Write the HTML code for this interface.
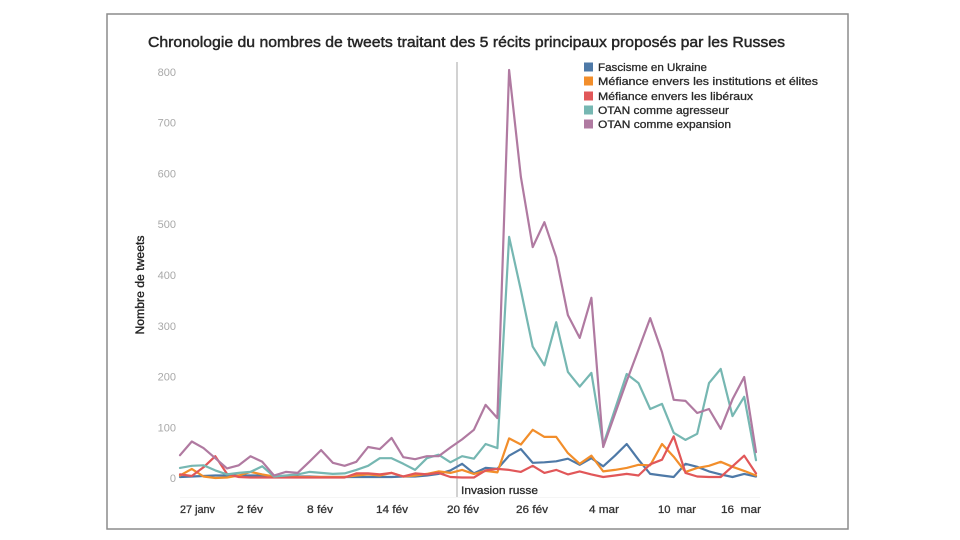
<!DOCTYPE html>
<html><head><meta charset="utf-8"><style>
html,body{margin:0;padding:0;background:#fff;}
svg{display:block;}
text{font-family:"Liberation Sans",sans-serif;}
</style></head><body>
<svg width="960" height="540" viewBox="0 0 960 540" xmlns="http://www.w3.org/2000/svg">
<rect x="0" y="0" width="960" height="540" fill="#fff"/>
<rect x="107" y="14" width="741" height="515" fill="none" stroke="#8c8c8c" stroke-width="1.5"/>
<text x="148" y="47" font-size="15" fill="#262626" stroke="#262626" stroke-width="0.45" textLength="637" lengthAdjust="spacingAndGlyphs">Chronologie du nombres de tweets traitant des 5 récits principaux proposés par les Russes</text>

<g font-size="11" fill="#a8a8a8" text-anchor="end">
<text x="176" y="76">800</text>
<text x="176" y="126.7">700</text>
<text x="176" y="177.5">600</text>
<text x="176" y="228.2">500</text>
<text x="176" y="279">400</text>
<text x="176" y="329.8">300</text>
<text x="176" y="380.5">200</text>
<text x="176" y="431.3">100</text>
<text x="176" y="482">0</text>
</g>
<text transform="translate(144,285) rotate(-90)" text-anchor="middle" font-size="11.5" fill="#222" stroke="#222" stroke-width="0.35" textLength="99" lengthAdjust="spacingAndGlyphs">Nombre de tweets</text>

<line x1="180" y1="497.5" x2="760" y2="497.5" stroke="#f5f5f5" stroke-width="1"/>
<line x1="457" y1="62" x2="457" y2="497" stroke="#b4b4b4" stroke-width="1.2"/>
<text x="461" y="494" font-size="11" fill="#2a2a2a" stroke="#2a2a2a" stroke-width="0.3" textLength="77" lengthAdjust="spacingAndGlyphs">Invasion russe</text>

<g font-size="11" fill="#333" stroke="#333" stroke-width="0.3">
<text x="180" y="513" textLength="35" lengthAdjust="spacingAndGlyphs">27 janv</text>
<text x="237" y="513" textLength="26" lengthAdjust="spacingAndGlyphs">2 fév</text>
<text x="307" y="513" textLength="26" lengthAdjust="spacingAndGlyphs">8 fév</text>
<text x="376" y="513" textLength="32" lengthAdjust="spacingAndGlyphs">14 fév</text>
<text x="447" y="513" textLength="32" lengthAdjust="spacingAndGlyphs">20 fév</text>
<text x="516" y="513" textLength="32" lengthAdjust="spacingAndGlyphs">26 fév</text>
<text x="589" y="513" textLength="30" lengthAdjust="spacingAndGlyphs">4 mar</text>
<text x="658" y="513" textLength="38" lengthAdjust="spacingAndGlyphs">10 &#160;mar</text>
<text x="721" y="513" textLength="40" lengthAdjust="spacingAndGlyphs">16 &#160;mar</text>
</g>

<g fill="none" stroke-width="2.2" stroke-linejoin="round" stroke-linecap="round">
<polyline stroke="#4e79a7" points="180.0,477.0 191.8,476.5 203.5,476.0 215.3,475.5 227.0,475.5 238.8,475.5 250.5,475.5 262.3,475.5 274.0,476.5 285.8,476.5 297.6,476.5 309.3,476.5 321.1,477.0 332.8,477.0 344.6,477.0 356.3,477.0 368.1,477.0 379.8,477.0 391.6,477.0 403.3,476.5 415.1,476.5 426.9,475.5 438.6,473.9 450.4,470.4 462.1,463.8 473.9,473.4 485.6,467.9 497.4,468.9 509.1,455.7 520.9,449.1 532.7,462.8 544.4,462.3 556.2,461.3 567.9,458.7 579.7,464.8 591.4,458.2 603.2,466.3 614.9,455.7 626.7,444.0 638.5,459.7 650.2,473.9 662.0,475.5 673.7,477.0 685.5,463.8 697.2,466.8 709.0,471.4 720.7,474.4 732.5,477.0 744.2,473.9 756.0,476.5"/>
<polyline stroke="#f28e2b" points="180.0,475.5 191.8,468.9 203.5,476.5 215.3,478.0 227.0,477.5 238.8,475.5 250.5,471.9 262.3,474.4 274.0,476.5 285.8,476.5 297.6,477.0 309.3,477.0 321.1,477.0 332.8,477.0 344.6,477.0 356.3,475.5 368.1,474.4 379.8,475.5 391.6,472.9 403.3,476.5 415.1,475.5 426.9,473.9 438.6,471.4 450.4,472.9 462.1,469.9 473.9,473.9 485.6,470.9 497.4,472.4 509.1,438.4 520.9,444.5 532.7,429.8 544.4,436.9 556.2,436.9 567.9,453.1 579.7,463.8 591.4,455.7 603.2,471.4 614.9,469.9 626.7,467.9 638.5,464.8 650.2,465.3 662.0,444.0 673.7,456.7 685.5,471.9 697.2,467.9 709.0,465.8 720.7,461.8 732.5,466.8 744.2,470.9 756.0,475.5"/>
<polyline stroke="#e15759" points="180.0,474.4 191.8,476.0 203.5,467.3 215.3,456.2 227.0,473.9 238.8,477.0 250.5,477.5 262.3,477.5 274.0,477.5 285.8,477.5 297.6,477.5 309.3,477.5 321.1,477.5 332.8,477.5 344.6,477.5 356.3,473.4 368.1,473.4 379.8,474.4 391.6,472.9 403.3,476.5 415.1,473.4 426.9,474.4 438.6,472.9 450.4,477.0 462.1,477.5 473.9,477.5 485.6,470.4 497.4,468.9 509.1,469.9 520.9,471.9 532.7,465.8 544.4,472.9 556.2,469.9 567.9,474.4 579.7,471.4 591.4,474.4 603.2,477.0 614.9,475.5 626.7,473.9 638.5,475.5 650.2,464.3 662.0,459.7 673.7,436.4 685.5,472.9 697.2,476.5 709.0,477.0 720.7,477.0 732.5,466.3 744.2,455.7 756.0,473.4"/>
<polyline stroke="#76b7b2" points="180.0,467.9 191.8,465.8 203.5,465.3 215.3,470.4 227.0,474.4 238.8,472.9 250.5,471.9 262.3,466.3 274.0,476.5 285.8,475.5 297.6,474.4 309.3,471.9 321.1,472.9 332.8,473.9 344.6,473.4 356.3,469.9 368.1,465.8 379.8,458.2 391.6,458.2 403.3,463.8 415.1,469.9 426.9,458.2 438.6,454.7 450.4,462.3 462.1,456.2 473.9,458.7 485.6,444.0 497.4,448.1 509.1,236.9 520.9,290.2 532.7,346.6 544.4,365.3 556.2,322.2 567.9,371.9 579.7,386.6 591.4,372.9 603.2,445.0 614.9,409.5 626.7,374.0 638.5,383.1 650.2,409.0 662.0,403.9 673.7,432.8 685.5,439.9 697.2,433.8 709.0,383.1 720.7,368.9 732.5,416.1 744.2,396.8 756.0,460.2"/>
<polyline stroke="#b07aa1" points="180.0,455.2 191.8,441.5 203.5,448.1 215.3,458.2 227.0,468.4 238.8,465.3 250.5,456.2 262.3,461.8 274.0,475.5 285.8,471.9 297.6,472.9 309.3,461.8 321.1,450.1 332.8,462.8 344.6,465.8 356.3,461.8 368.1,447.0 379.8,449.1 391.6,437.9 403.3,457.2 415.1,459.2 426.9,456.2 438.6,456.2 450.4,447.5 462.1,439.4 473.9,429.8 485.6,404.9 497.4,418.1 509.1,70.0 520.9,177.1 532.7,247.1 544.4,222.2 556.2,257.2 567.9,315.1 579.7,337.9 591.4,297.8 603.2,447.0 614.9,414.1 626.7,381.1 638.5,349.6 650.2,318.1 662.0,352.1 673.7,399.8 685.5,400.9 697.2,413.0 709.0,409.0 720.7,428.8 732.5,399.3 744.2,377.0 756.0,452.1"/>
</g>

<g font-size="11" fill="#2a2a2a" stroke="#2a2a2a" stroke-width="0.3">
<rect x="584" y="62.5" width="9" height="9" fill="#4e79a7" stroke="none"/>
<text x="598" y="71" textLength="109" lengthAdjust="spacingAndGlyphs">Fascisme en Ukraine</text>
<rect x="584" y="76.5" width="9" height="9" fill="#f28e2b" stroke="none"/>
<text x="598" y="85" textLength="220" lengthAdjust="spacingAndGlyphs">Méfiance envers les institutions et élites</text>
<rect x="584" y="91.5" width="9" height="9" fill="#e15759" stroke="none"/>
<text x="598" y="100" textLength="155" lengthAdjust="spacingAndGlyphs">Méfiance envers les libéraux</text>
<rect x="584" y="105.5" width="9" height="9" fill="#76b7b2" stroke="none"/>
<text x="598" y="114" textLength="131" lengthAdjust="spacingAndGlyphs">OTAN comme agresseur</text>
<rect x="584" y="119.5" width="9" height="9" fill="#b07aa1" stroke="none"/>
<text x="598" y="128" textLength="133" lengthAdjust="spacingAndGlyphs">OTAN comme expansion</text>
</g>
</svg>
</body></html>
